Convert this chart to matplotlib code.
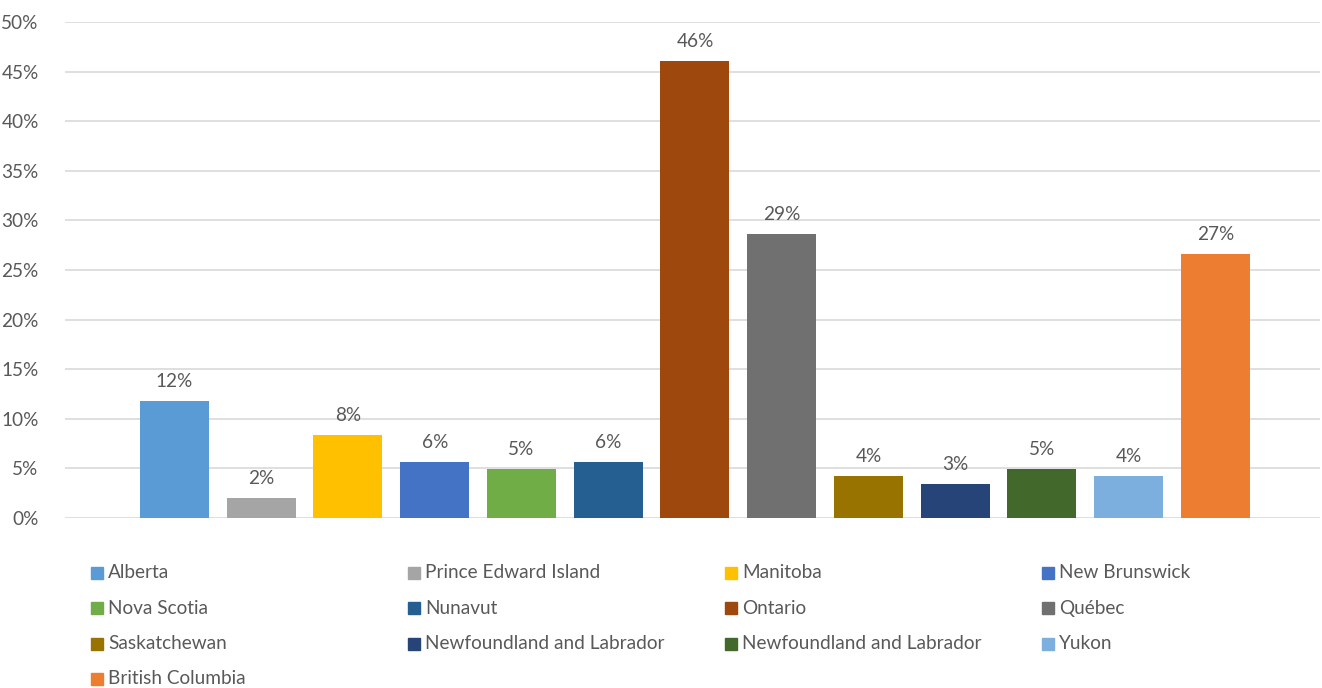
import matplotlib.pyplot as plt
from matplotlib.patches import Rectangle
from matplotlib.ticker import PercentFormatter

provinces = ["Alberta", "Prince Edward Island", "Manitoba", "New Brunswick",
             "Nova Scotia", "Nunavut", "Ontario", "Québec", "Saskatchewan",
             "Newfoundland and Labrador", "Newfoundland and Labrador", "Yukon",
             "British Columbia"]
shares = [0.118, 0.020, 0.084, 0.056, 0.049, 0.056, 0.461, 0.286,
          0.042, 0.034, 0.049, 0.042, 0.266]
colors = ["#5B9BD5", "#A5A5A5", "#FFC000", "#4472C4", "#70AD47", "#255E91",
          "#9E480E", "#707070", "#997300", "#264478", "#43682B", "#7CAFDD",
          "#ED7D31"]

plt.rcParams['font.family'] = ['Lato', 'DejaVu Sans']
text_color = '#595959'
fs = 13.7

fig = plt.figure(figsize=(13.22, 6.88), dpi=100)
ax = fig.add_axes([65 / 1322, 1 - 518 / 688, 1255 / 1322, 496 / 688])

x = list(range(len(shares)))
ax.bar(x, shares, width=0.795, color=colors, zorder=3)
for xi, v in zip(x, shares):
    ax.annotate(f"{v:.0%}", (xi, v), xytext=(0, 8), textcoords='offset points',
                ha='center', va='bottom', fontsize=fs, color=text_color)

ax.set_xlim(-1.262, 13.205)
ax.set_ylim(0, 0.5)
ax.set_yticks([i * 0.05 for i in range(11)])
ax.yaxis.set_major_formatter(PercentFormatter(1.0, decimals=0))
ax.set_xticks([])
ax.tick_params(axis='y', length=0, labelsize=fs, labelcolor=text_color, pad=19)
ax.grid(axis='y', color='#D9D9D9', linewidth=1.2, zorder=0)
for s in ax.spines.values():
    s.set_visible(False)

# legend, row by row in four columns
for i, (name, c) in enumerate(zip(provinces, colors)):
    row, col = divmod(i, 4)
    lx = (91 + col * 317) / 1322
    ly = 1 - (573 + row * 35.3) / 688
    fig.patches.append(Rectangle((lx, ly - 6 / 688), 12 / 1322, 12 / 688,
                                 transform=fig.transFigure, color=c))
    fig.text(lx + 17 / 1322, ly, name, fontsize=fs, color=text_color,
             va='center', ha='left')

plt.savefig("out.png", dpi=100)
